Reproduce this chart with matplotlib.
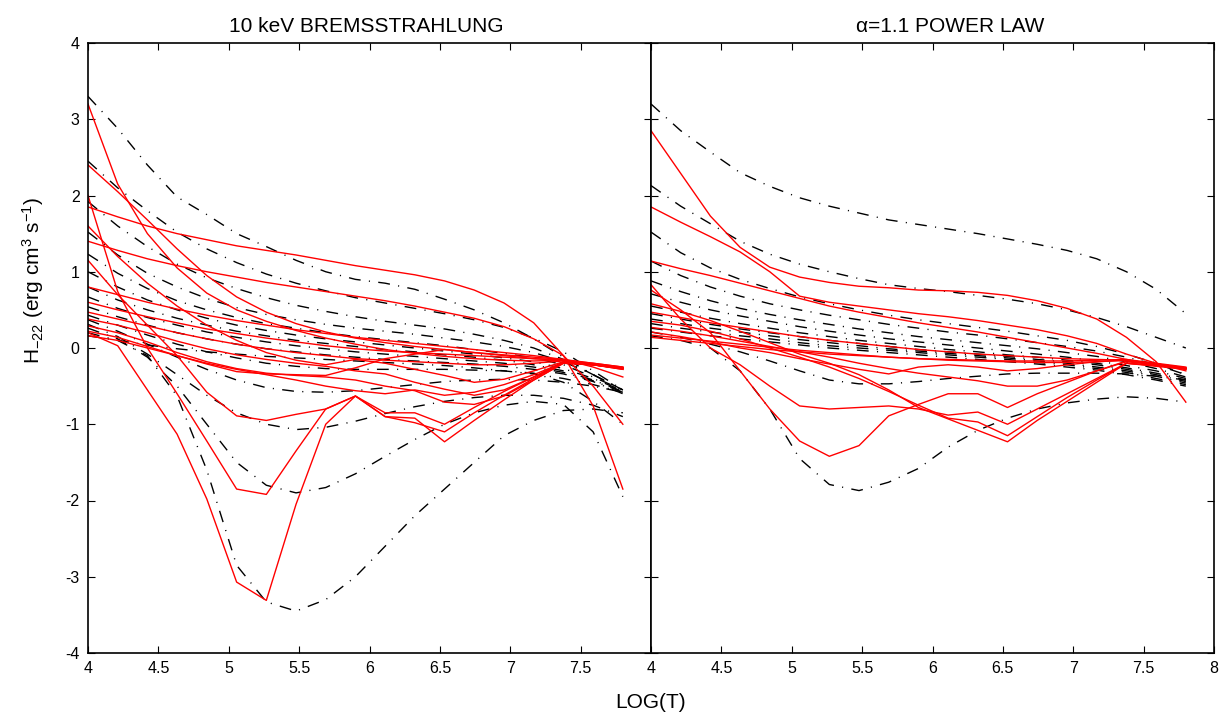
import numpy as np
import matplotlib
matplotlib.use("Agg")
import matplotlib.pyplot as plt

plt.rcParams['font.family'] = ['Liberation Sans', 'DejaVu Sans']
plt.rcParams['mathtext.fontset'] = 'custom'
plt.rcParams['mathtext.rm'] = 'Liberation Sans'
plt.rcParams['mathtext.it'] = 'Liberation Sans:italic'
plt.rcParams['mathtext.default'] = 'regular'
plt.rcParams['axes.unicode_minus'] = False

# ---------------- data ----------------
log_t = [4.0, 4.211, 4.422, 4.633, 4.844, 5.056, 5.267, 5.478, 5.689, 5.9,
         6.111, 6.322, 6.533, 6.744, 6.956, 7.167, 7.378, 7.589, 7.8]

# left panel: 10 keV bremsstrahlung
brems_red = [
    [3.2, 2.15, 1.5, 1.05, 0.72, 0.5, 0.35, 0.23, 0.13, 0.05, -0.02, -0.07, -0.11, -0.14, -0.16, -0.17, -0.16, -0.2, -0.25],
    [2.4, 2.05, 1.68, 1.3, 0.95, 0.67, 0.47, 0.32, 0.21, 0.13, 0.07, 0.02, -0.02, -0.06, -0.09, -0.12, -0.15, -0.2, -0.25],
    [2.0, 0.74, 0.0, -0.6, -1.22, -1.85, -1.92, -1.35, -0.8, -0.63, -0.9, -0.98, -1.1, -0.85, -0.62, -0.4, -0.19, -0.22, -0.28],
    [1.85, 1.72, 1.6, 1.5, 1.42, 1.34, 1.28, 1.22, 1.15, 1.08, 1.02, 0.96, 0.88, 0.76, 0.59, 0.33, -0.1, -0.76, -1.85],
    [1.6, 1.2, 0.85, 0.55, 0.3, 0.1, -0.06, -0.16, -0.22, -0.15, -0.2, -0.28, -0.36, -0.45, -0.41, -0.3, -0.18, -0.22, -0.27],
    [1.4, 1.28, 1.17, 1.08, 1.0, 0.93, 0.86, 0.8, 0.74, 0.68, 0.62, 0.55, 0.47, 0.39, 0.28, 0.12, -0.1, -0.5, -1.0],
    [1.15, 0.7, 0.3, -0.1, -0.58, -0.89, -0.95, -0.87, -0.8, -0.63, -0.85, -0.85, -1.0, -0.78, -0.57, -0.38, -0.18, -0.22, -0.27],
    [0.8, 0.7, 0.6, 0.51, 0.43, 0.36, 0.3, 0.24, 0.19, 0.14, 0.1, 0.06, 0.02, -0.02, -0.06, -0.1, -0.15, -0.25, -0.38],
    [0.6, 0.5, 0.41, 0.33, 0.25, 0.19, 0.13, 0.08, 0.03, -0.01, -0.04, -0.06, -0.08, -0.1, -0.12, -0.14, -0.16, -0.21, -0.26],
    [0.47, 0.38, 0.29, 0.2, 0.12, 0.05, -0.01, -0.06, -0.1, -0.14, -0.16, -0.18, -0.2, -0.22, -0.22, -0.2, -0.17, -0.21, -0.26],
    [0.38, 0.3, 0.2, 0.09, -0.01, -0.09, -0.15, -0.2, -0.24, -0.3, -0.34, -0.45, -0.54, -0.62, -0.55, -0.38, -0.19, -0.22, -0.26],
    [0.29, 0.2, 0.08, -0.06, -0.18, -0.27, -0.33, -0.36, -0.38, -0.42, -0.5, -0.56, -0.71, -0.74, -0.63, -0.42, -0.2, -0.22, -0.27],
    [0.22, 0.14, 0.02, -0.1, -0.21, -0.31, -0.34, -0.35, -0.36, -0.26, -0.14, -0.08, -0.02, -0.06, -0.1, -0.14, -0.16, -0.21, -0.26],
    [0.16, 0.1, 0.0, -0.1, -0.2, -0.28, -0.35, -0.42, -0.5, -0.56, -0.6, -0.55, -0.62, -0.58, -0.48, -0.35, -0.19, -0.22, -0.27],
    [0.2, 0.03, -0.55, -1.13, -1.98, -3.07, -3.31, -2.05, -1.0, -0.63, -0.9, -0.92, -1.23, -0.95, -0.68, -0.42, -0.2, -0.22, -0.28],
]

brems_black = [
    [3.3, 2.88, 2.4, 1.98, 1.75, 1.5, 1.33, 1.15, 1.0, 0.9, 0.85, 0.77, 0.64, 0.5, 0.33, 0.12, -0.12, -0.35, -0.55],
    [2.45, 2.1, 1.8, 1.52, 1.3, 1.12, 0.97, 0.85, 0.75, 0.66, 0.59, 0.52, 0.45, 0.37, 0.27, 0.13, -0.05, -0.3, -0.55],
    [1.92, 1.6, 1.33, 1.1, 0.92, 0.78, 0.66, 0.56, 0.48, 0.41, 0.35, 0.3, 0.25, 0.18, 0.1, 0.0, -0.15, -0.35, -0.55],
    [1.52, 1.22, 0.98, 0.8, 0.65, 0.53, 0.44, 0.37, 0.31, 0.26, 0.22, 0.18, 0.13, 0.08, 0.02, -0.06, -0.18, -0.35, -0.55],
    [1.23, 0.98, 0.78, 0.62, 0.5, 0.4, 0.32, 0.26, 0.2, 0.15, 0.11, 0.07, 0.03, -0.02, -0.07, -0.13, -0.22, -0.38, -0.55],
    [1.0, 0.8, 0.63, 0.5, 0.39, 0.3, 0.23, 0.17, 0.12, 0.08, 0.04, 0.0, -0.04, -0.08, -0.13, -0.18, -0.27, -0.4, -0.56],
    [0.8, 0.63, 0.5, 0.39, 0.3, 0.22, 0.16, 0.1, 0.06, 0.02, -0.02, -0.05, -0.09, -0.12, -0.16, -0.22, -0.3, -0.42, -0.57],
    [0.67, 0.52, 0.4, 0.3, 0.21, 0.14, 0.08, 0.03, -0.01, -0.05, -0.08, -0.11, -0.14, -0.17, -0.2, -0.25, -0.32, -0.43, -0.58],
    [0.54, 0.41, 0.3, 0.2, 0.12, 0.05, -0.01, -0.05, -0.09, -0.12, -0.15, -0.17, -0.19, -0.21, -0.24, -0.28, -0.34, -0.44, -0.6],
    [0.43, 0.3, 0.17, 0.05, -0.05, -0.13, -0.2, -0.24, -0.27, -0.28, -0.28, -0.28, -0.28, -0.29, -0.3, -0.33, -0.45, -0.7, -1.0],
    [0.37, 0.22, 0.05, -0.12, -0.28, -0.42, -0.52, -0.57, -0.58, -0.56, -0.52, -0.48, -0.44, -0.42, -0.41, -0.42, -0.45, -0.5, -0.58],
    [0.31, 0.15, -0.08, -0.35, -0.62, -0.85, -1.0, -1.07, -1.04, -0.96, -0.86, -0.77, -0.7, -0.65, -0.62, -0.62, -0.66, -0.75, -0.9],
    [0.26, 0.12, -0.12, -0.5, -1.0, -1.5, -1.8, -1.9, -1.83, -1.65, -1.42, -1.2, -1.0, -0.85, -0.75, -0.7, -0.74, -1.1, -1.95],
    [0.2, 0.1, -0.1, -0.63, -1.6, -2.85, -3.33, -3.45, -3.3, -3.0, -2.6, -2.2, -1.85, -1.5, -1.15, -0.95, -0.82, -0.8, -0.85],
    [0.16, 0.1, 0.04, -0.01, -0.05, -0.08, -0.11, -0.13, -0.15, -0.17, -0.19, -0.21, -0.23, -0.26, -0.3, -0.34, -0.4, -0.48, -0.58],
]

# right panel: alpha = 1.1 power law
power_red = [
    [2.85, 2.29, 1.73, 1.32, 1.06, 0.93, 0.86, 0.81, 0.79, 0.76, 0.75, 0.73, 0.69, 0.62, 0.52, 0.38, 0.14, -0.18, -0.71],
    [1.85, 1.65, 1.46, 1.26, 1.0, 0.68, 0.6, 0.55, 0.5, 0.45, 0.41, 0.36, 0.3, 0.24, 0.16, 0.06, -0.08, -0.2, -0.3],
    [1.14, 1.04, 0.95, 0.85, 0.75, 0.65, 0.55, 0.47, 0.4, 0.33, 0.27, 0.21, 0.14, 0.07, 0.0, -0.07, -0.15, -0.22, -0.28],
    [0.83, 0.38, 0.0, -0.22, -0.5, -0.76, -0.8, -0.78, -0.76, -0.8, -0.88, -0.84, -1.0, -0.8, -0.6, -0.4, -0.2, -0.24, -0.28],
    [0.76, 0.5, 0.2, -0.3, -0.8, -1.22, -1.42, -1.28, -0.89, -0.74, -0.6, -0.6, -0.78, -0.6, -0.45, -0.3, -0.17, -0.22, -0.27],
    [0.58, 0.48, 0.36, 0.22, 0.07, -0.08, -0.2, -0.35, -0.55, -0.78, -0.93, -1.08, -1.23, -0.95, -0.7, -0.45, -0.2, -0.23, -0.27],
    [0.47, 0.4, 0.33, 0.27, 0.21, 0.15, 0.1, 0.06, 0.02, -0.02, -0.05, -0.08, -0.1, -0.12, -0.14, -0.15, -0.16, -0.21, -0.26],
    [0.35, 0.3, 0.22, 0.12, 0.0, -0.12, -0.25, -0.4, -0.57, -0.75, -0.92, -0.97, -1.15, -0.9, -0.65, -0.42, -0.2, -0.23, -0.27],
    [0.27, 0.22, 0.16, 0.09, 0.02, -0.05, -0.12, -0.2, -0.27, -0.33, -0.38, -0.43, -0.5, -0.5, -0.42, -0.3, -0.18, -0.22, -0.27],
    [0.21, 0.15, 0.08, 0.0, -0.06, -0.14, -0.21, -0.28, -0.34, -0.25, -0.22, -0.25, -0.3, -0.27, -0.22, -0.18, -0.16, -0.21, -0.26],
    [0.17, 0.13, 0.09, 0.05, 0.01, -0.03, -0.06, -0.09, -0.12, -0.14, -0.16, -0.17, -0.18, -0.19, -0.19, -0.18, -0.16, -0.21, -0.26],
    [0.14, 0.1, 0.06, 0.02, -0.02, -0.05, -0.08, -0.1, -0.12, -0.14, -0.15, -0.16, -0.17, -0.17, -0.17, -0.16, -0.15, -0.2, -0.25],
]

power_black = [
    [3.2, 2.85, 2.57, 2.3, 2.12, 1.97, 1.86, 1.77, 1.68, 1.62, 1.56, 1.5, 1.43, 1.36, 1.28, 1.17, 1.0, 0.77, 0.45],
    [2.13, 1.86, 1.63, 1.4, 1.23, 1.1, 1.0, 0.91, 0.83, 0.78, 0.74, 0.69, 0.64, 0.58, 0.5, 0.4, 0.28, 0.14, 0.0],
    [1.52, 1.25, 1.05, 0.9, 0.78, 0.67, 0.58, 0.5, 0.43, 0.37, 0.32, 0.27, 0.22, 0.16, 0.1, 0.02, -0.08, -0.2, -0.35],
    [1.14, 0.95, 0.8, 0.68, 0.58, 0.5, 0.43, 0.37, 0.31, 0.26, 0.21, 0.17, 0.12, 0.07, 0.02, -0.04, -0.12, -0.22, -0.35],
    [0.88, 0.74, 0.62, 0.52, 0.44, 0.37, 0.31, 0.25, 0.2, 0.15, 0.11, 0.07, 0.03, -0.01, -0.06, -0.11, -0.18, -0.27, -0.38],
    [0.71, 0.6, 0.5, 0.42, 0.35, 0.28, 0.22, 0.17, 0.12, 0.08, 0.04, 0.0, -0.04, -0.08, -0.12, -0.17, -0.23, -0.3, -0.4],
    [0.55, 0.47, 0.39, 0.32, 0.26, 0.2, 0.15, 0.1, 0.06, 0.02, -0.02, -0.05, -0.09, -0.12, -0.16, -0.2, -0.26, -0.33, -0.42],
    [0.45, 0.38, 0.31, 0.25, 0.2, 0.15, 0.1, 0.06, 0.02, -0.02, -0.05, -0.08, -0.11, -0.15, -0.18, -0.22, -0.28, -0.35, -0.44],
    [0.38, 0.32, 0.26, 0.21, 0.16, 0.11, 0.07, 0.03, -0.01, -0.04, -0.07, -0.1, -0.13, -0.17, -0.2, -0.25, -0.3, -0.37, -0.46],
    [0.32, 0.26, 0.21, 0.16, 0.12, 0.07, 0.03, 0.0, -0.03, -0.06, -0.09, -0.12, -0.15, -0.19, -0.22, -0.27, -0.32, -0.4, -0.48],
    [0.26, 0.21, 0.16, 0.12, 0.08, 0.04, 0.0, -0.03, -0.06, -0.09, -0.12, -0.15, -0.18, -0.21, -0.25, -0.29, -0.35, -0.42, -0.5],
    [0.21, 0.14, 0.05, -0.05, -0.17, -0.3, -0.42, -0.47, -0.47, -0.44, -0.4, -0.37, -0.34, -0.33, -0.33, -0.33, -0.34, -0.37, -0.42],
    [0.16, 0.1, 0.0, -0.3, -0.8, -1.45, -1.79, -1.87, -1.76, -1.58, -1.3, -1.08, -0.92, -0.8, -0.72, -0.67, -0.64, -0.66, -0.71],
]

x_ticks_left = [4, 4.5, 5, 5.5, 6, 6.5, 7, 7.5]
x_labels_left = ["4", "4.5", "5", "5.5", "6", "6.5", "7", "7.5"]
x_ticks_right = [4, 4.5, 5, 5.5, 6, 6.5, 7, 7.5, 8]
x_labels_right = ["4", "4.5", "5", "5.5", "6", "6.5", "7", "7.5", "8"]
y_ticks = [-4, -3, -2, -1, 0, 1, 2, 3, 4]
y_labels = ["-4", "-3", "-2", "-1", "0", "1", "2", "3", "4"]

title_left = "10 keV BREMSSTRAHLUNG"
title_right = "\u03b1=1.1 POWER LAW"

# ---------------- figure ----------------
W, H = 1224, 715
fig = plt.figure(figsize=(W / 100, H / 100), dpi=100)

x0, x1, x2 = 88, 651, 1214
ytop, ybot = 43, 653
axL = fig.add_axes([x0 / W, 1 - ybot / H, (x1 - x0) / W, (ybot - ytop) / H])
axR = fig.add_axes([x1 / W, 1 - ybot / H, (x2 - x1) / W, (ybot - ytop) / H])

dash_style = (0, (8.5, 6.0, 0.8, 6.0))

for ax, reds, blacks in ((axL, brems_red, brems_black), (axR, power_red, power_black)):
    for ys in blacks:
        ax.plot(log_t, ys, color='black', lw=1.0, linestyle=dash_style,
                dash_capstyle='butt')
    for ys in reds:
        ax.plot(log_t, ys, color='#ff0000', lw=1.0)
    ax.set_xlim(4, 8)
    ax.set_ylim(-4, 4)
    ax.tick_params(direction='in', top=True, right=True, length=5, width=0.8,
                   labelsize=11.5, pad=6)
    for sp in ax.spines.values():
        sp.set_linewidth(1.2)

axL.set_xticks(x_ticks_left)
axL.set_xticklabels(x_labels_left)
axL.set_yticks(y_ticks)
axL.set_yticklabels(y_labels)
axR.set_xticks(x_ticks_right)
axR.set_xticklabels(x_labels_right)
axR.set_yticks(y_ticks)
axR.set_yticklabels([])

fig.text(366 / W, 1 - 27 / H, title_left, ha='center', va='center', fontsize=15)
fig.text(950 / W, 1 - 27 / H, title_right, ha='center', va='center', fontsize=15)
fig.text(651 / W, 1 - 703 / H, "LOG(T)", ha='center', va='center', fontsize=15)
fig.text(33 / W, 1 - 280 / H, "H$_{-22}$ (erg cm$^{3}$ s$^{-1}$)", ha='center',
         va='center', rotation=90, fontsize=15)

fig.savefig("out.png", dpi=100)
